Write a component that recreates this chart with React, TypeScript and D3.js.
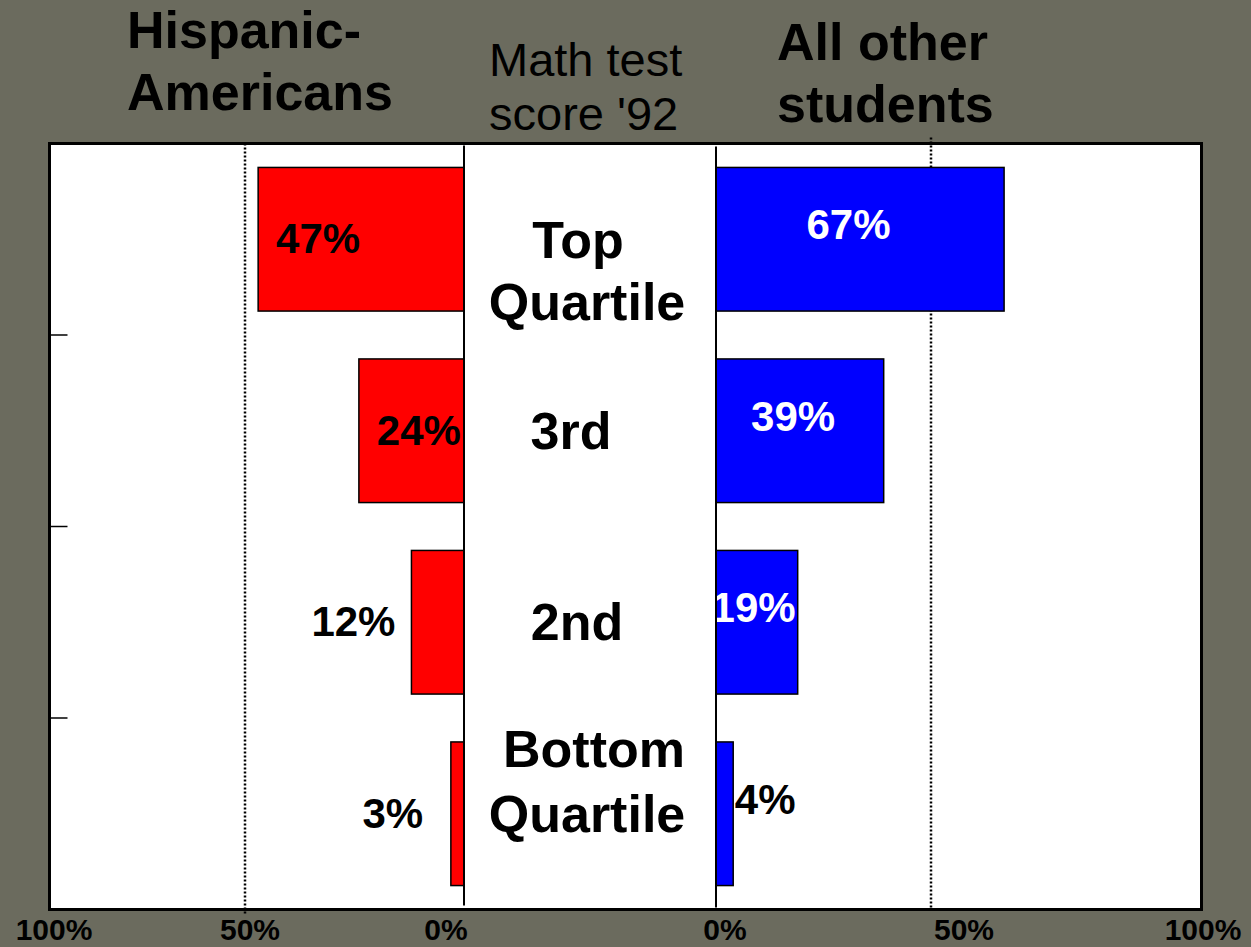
import React from "react";
import * as d3 from "d3";

const categories = ["Top Quartile", "3rd", "2nd", "Bottom Quartile"];
const categoryLines = [["Top", "Quartile"], ["3rd"], ["2nd"], ["Bottom", "Quartile"]];
const hispanicValues = [47, 24, 12, 3];
const otherValues = [67, 39, 19, 4];
const gridTicks = [50];
const axisTicks = [100, 50, 0];
const titleLeft = ["Hispanic-", "Americans"];
const titleMid = ["Math test", "score '92"];
const titleRight = ["All other", "students"];

const W = 1251;
const H = 947;
const BG = "#6b6b5e";
const FONT = "'Liberation Sans', Arial, sans-serif";

export default function App() {
  const plot = { left: 49.5, right: 1201.5, top: 143.5, bottom: 909.5 };
  const leftZero = 464;
  const rightZero = 716;

  const y = d3
    .scaleBand<string>()
    .domain(categories)
    .range([plot.top, plot.bottom])
    .paddingInner(0.25)
    .paddingOuter(0.125);

  const xL = d3.scaleLinear().domain([0, 100]).range([leftZero, leftZero - 438]);
  const xR = d3.scaleLinear().domain([0, 100]).range([rightZero, rightZero + 430]);

  // axis label positions
  const lblL = d3.scaleLinear().domain([0, 100]).range([446, 54]);
  const lblR = d3.scaleLinear().domain([0, 100]).range([725, 1203]);

  const step = y.step();
  const boundaries = categories.slice(1).map((c) => (y(c) as number) - step * 0.125);

  const catX = [[578, 587], [571], [577], [594, 587]];
  const catBase = [[258, 320], [449], [640], [767, 832]];

  return (
    <svg
      width={W}
      height={H}
      style={{ position: "absolute", left: 0, top: 0, display: "block" }}
      fontFamily={FONT}
    >
      <rect x={0} y={0} width={W} height={H} fill={BG} />
      {/* titles */}
      {titleLeft.map((t, i) => (
        <text key={t} x={127} y={48 + i * 62} fontSize={52} fontWeight="bold" fill="#000">
          {t}
        </text>
      ))}
      {titleMid.map((t, i) => (
        <text key={t} x={489} y={76 + i * 54} fontSize={47} fill="#000">
          {t}
        </text>
      ))}
      {titleRight.map((t, i) => (
        <text key={t} x={777} y={60 + i * 62} fontSize={52} fontWeight="bold" fill="#000">
          {t}
        </text>
      ))}

      {/* plot area */}
      <rect
        x={plot.left}
        y={plot.top}
        width={plot.right - plot.left}
        height={plot.bottom - plot.top}
        fill="#fff"
        stroke="#000"
        strokeWidth={3}
      />
      {boundaries.map((b, i) => (
        <line key={i} x1={plot.left} x2={plot.left + 18} y1={b} y2={b} stroke="#000" strokeWidth={1.5} />
      ))}

      {/* gridlines */}
      {gridTicks.map((t) => (
        <g key={t}>
          <line
            x1={xL(t)}
            x2={xL(t)}
            y1={plot.top}
            y2={plot.bottom + 6}
            stroke="#000"
            strokeWidth={2.5}
            strokeDasharray="2,2"
          />
          <line
            x1={xR(t)}
            x2={xR(t)}
            y1={plot.top - 6}
            y2={plot.bottom}
            stroke="#000"
            strokeWidth={2.5}
            strokeDasharray="2,2"
          />
        </g>
      ))}

      {/* bars */}
      {categories.map((c, i) => {
        const y0 = y(c) as number;
        const bw = y.bandwidth();
        const vL = hispanicValues[i];
        const vR = otherValues[i];
        const xl = xL(vL);
        const xr = xR(vR);
        const wL = leftZero - xl;
        const wR = xr - rightZero;
        const insideL = vL >= 20;
        const lxL = insideL ? xl + 60 : xl - 58;
        const insideR = vR >= 10;
        const lxR = insideR ? rightZero + wR * 0.46 : xr + 32;
        const mid = y0 + bw / 2;
        return (
          <g key={c}>
            <rect x={xl} y={y0} width={wL} height={bw} fill="#ff0000" stroke="#000" strokeWidth={1.5} />
            <rect x={rightZero} y={y0} width={wR} height={bw} fill="#0000ff" stroke="#000" strokeWidth={1.5} />
            <text x={lxL} y={mid + 14} fontSize={42} fontWeight="bold" textAnchor="middle" fill="#000">
              {vL}%
            </text>
            <text
              x={lxR}
              y={mid}
              fontSize={42}
              fontWeight="bold"
              textAnchor="middle"
              fill={insideR ? "#fff" : "#000"}
            >
              {vR}%
            </text>
          </g>
        );
      })}

      {/* zero lines */}
      <line x1={leftZero} x2={leftZero} y1={plot.top + 2} y2={plot.bottom - 4} stroke="#000" strokeWidth={2} />
      <line x1={rightZero} x2={rightZero} y1={plot.top + 3} y2={plot.bottom - 2} stroke="#000" strokeWidth={2} />

      {/* category labels */}
      {categoryLines.map((lines, i) =>
        lines.map((t, j) => (
          <text
            key={i + "-" + j}
            x={catX[i][j]}
            y={catBase[i][j]}
            fontSize={52}
            fontWeight="bold"
            textAnchor="middle"
            fill="#000"
          >
            {t}
          </text>
        ))
      )}

      {/* bottom axis labels */}
      {axisTicks.map((t) => (
        <g key={t}>
          <text x={lblL(t)} y={940} fontSize={30} fontWeight="bold" textAnchor="middle" fill="#000">
            {t}%
          </text>
          <text x={lblR(t)} y={940} fontSize={30} fontWeight="bold" textAnchor="middle" fill="#000">
            {t}%
          </text>
        </g>
      ))}
    </svg>
  );
}
